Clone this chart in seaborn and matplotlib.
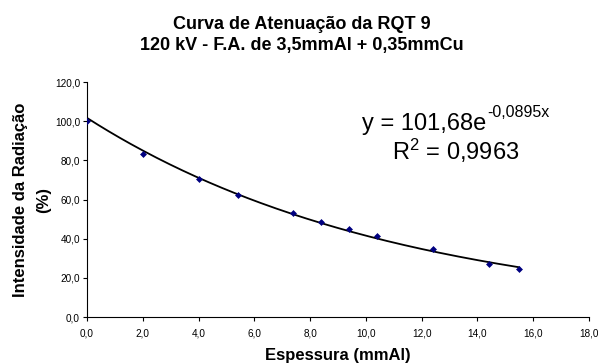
import numpy as np
import pandas as pd
import matplotlib
matplotlib.use('Agg')
import matplotlib.pyplot as plt
import seaborn as sns
from matplotlib.ticker import FuncFormatter, MultipleLocator

# dati
espessura = [0.0, 2.0, 4.0, 5.4, 7.4, 8.4, 9.4, 10.4, 12.4, 14.4, 15.5]
intensidade = [100.0, 83.4, 70.3, 62.5, 53.3, 48.7, 44.8, 41.4, 34.6, 26.9, 24.4]
coef_a = 101.68
coef_b = -0.0895

df = pd.DataFrame({'x': espessura, 'y': intensidade})

sns.set_theme(style='white')
plt.rcParams['font.family'] = ['Liberation Sans', 'DejaVu Sans']
plt.rcParams['mathtext.fontset'] = 'custom'
plt.rcParams['mathtext.rm'] = 'Liberation Sans'
plt.rcParams['mathtext.it'] = 'Liberation Sans'
plt.rcParams['text.color'] = 'black'
plt.rcParams['axes.labelcolor'] = 'black'

fig = plt.figure(figsize=(5.98, 3.63), dpi=100)
ax = fig.add_axes([0.1455, 0.1267, 0.8395, 0.6473])

# linea di tendenza esponenziale
xs = np.linspace(min(espessura), max(espessura), 200)
ax.plot(xs, coef_a * np.exp(coef_b * xs), color='black', lw=1.3, zorder=2)

sns.scatterplot(data=df, x='x', y='y', marker='D', s=9, color='#000080',
                edgecolor='#000080', linewidth=0.5, ax=ax, zorder=3)

ax.set_xlim(0, 18)
ax.set_ylim(0, 120)
ax.xaxis.set_major_locator(MultipleLocator(2))
ax.yaxis.set_major_locator(MultipleLocator(20))
fmt = FuncFormatter(lambda v, p: f'{v:.1f}'.replace('.', ','))
ax.xaxis.set_major_formatter(fmt)
ax.yaxis.set_major_formatter(fmt)
ax.tick_params(axis='both', labelsize=7.2, colors='black', length=3, width=0.8,
               direction='out', bottom=True, left=True)
ax.tick_params(axis='x', pad=5)
ax.tick_params(axis='y', pad=2)
for s in ['top', 'right']:
    ax.spines[s].set_visible(False)
for s in ['left', 'bottom']:
    ax.spines[s].set_color('black')
    ax.spines[s].set_linewidth(0.8)

ax.set_xlabel('Espessura (mmAl)', fontsize=12, fontweight='bold', labelpad=7)
ax.set_ylabel('Intensidade da Radiação\n(%)', fontsize=12, fontweight='bold',
              labelpad=3, linespacing=1.6)

fig.text(0.504, 0.920, 'Curva de Atenuação da RQT 9', ha='center', va='baseline',
         fontsize=13, fontweight='bold')
fig.text(0.504, 0.862, '120 kV - F.A. de 3,5mmAl + 0,35mmCu', ha='center', va='baseline',
         fontsize=13, fontweight='bold')

# equazione della linea di tendenza
eq = ax.text(9.85, 95.5, 'y = 101,68e', ha='left', va='baseline', fontsize=17)
ax.annotate('-0,0895x', xy=(1, 0), xycoords=eq, xytext=(1, 18),
            textcoords='offset pixels', ha='left', va='baseline', fontsize=11.5)
ax.text(10.93, 80.2, r'R$^{2}$ = 0,9963', ha='left', va='baseline', fontsize=17)

fig.savefig('out.png', dpi=100)
